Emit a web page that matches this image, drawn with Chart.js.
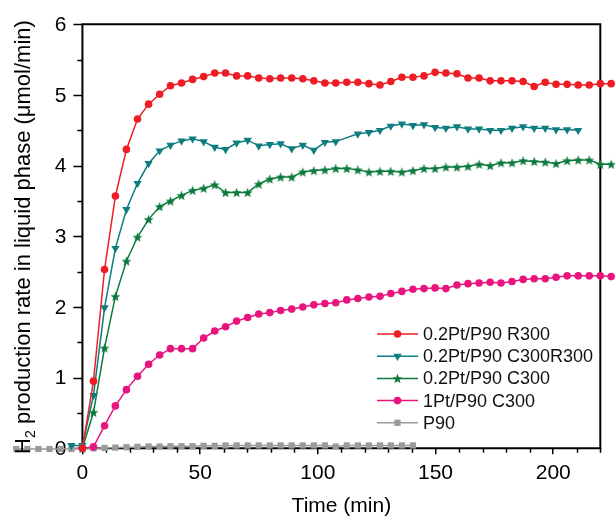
<!DOCTYPE html>
<html><head><meta charset="utf-8">
<script src="https://cdn.jsdelivr.net/npm/chart.js@4"></script>
<style>html,body{margin:0;padding:0;background:#fff}</style>
</head><body>
<canvas id="c" width="615" height="520" style="display:block;width:615px;height:520px"></canvas>
<script>
// ---------- data ----------
const timeMain = [0, 4.7, 9.4, 14.0, 18.7, 23.4, 28.1, 32.8, 37.4, 42.1, 46.8, 51.5, 56.2, 60.8, 65.5, 70.2, 74.9, 79.6, 84.2, 88.9, 93.6, 98.3, 103.0, 107.6, 112.3, 117.0, 121.7, 126.4, 131.0, 135.7, 140.4, 145.1, 149.8, 154.4, 159.1, 163.8, 168.5, 173.2, 177.8, 182.5, 187.2, 191.9, 196.6, 201.2, 205.9, 210.6, 215.3, 220.0, 224.6];
const timeTeal = [-4.7, 0, 4.7, 9.4, 14.0, 18.7, 23.4, 28.1, 32.8, 37.4, 42.1, 46.8, 51.5, 56.2, 60.8, 65.5, 70.2, 74.9, 79.6, 84.2, 88.9, 93.6, 98.3, 103.0, 107.6, 117.0, 121.7, 126.4, 131.0, 135.7, 140.4, 145.1, 149.8, 154.4, 159.1, 163.8, 168.5, 173.2, 177.8, 182.5, 187.2, 191.9, 196.6, 201.2, 205.9, 210.6];
const timeP90 = [-28.1, -23.4, -18.7, -14.0, -9.4, -4.7, 0, 4.7, 9.4, 14.0, 18.7, 23.4, 28.1, 32.8, 37.4, 42.1, 46.8, 51.5, 56.2, 60.8, 65.5, 70.2, 74.9, 79.6, 84.2, 88.9, 93.6, 98.3, 103.0, 107.6, 112.3, 117.0, 121.7, 126.4, 131.0, 135.7, 140.4];

const seriesNames = ["0.2Pt/P90 R300", "0.2Pt/P90 C300R300", "0.2Pt/P90 C300", "1Pt/P90 C300", "P90"];
const valR300 = [0, 0.95, 2.53, 3.57, 4.23, 4.66, 4.87, 5.01, 5.13, 5.17, 5.22, 5.26, 5.31, 5.31, 5.27, 5.27, 5.24, 5.23, 5.24, 5.24, 5.23, 5.20, 5.17, 5.17, 5.18, 5.18, 5.16, 5.14, 5.19, 5.25, 5.25, 5.27, 5.32, 5.31, 5.30, 5.24, 5.24, 5.20, 5.20, 5.20, 5.19, 5.12, 5.18, 5.15, 5.15, 5.14, 5.14, 5.16, 5.16];
const valC300R300 = [0.04, 0.04, 0.75, 1.99, 2.83, 3.38, 3.75, 4.03, 4.21, 4.29, 4.35, 4.38, 4.34, 4.26, 4.23, 4.32, 4.36, 4.28, 4.30, 4.31, 4.24, 4.29, 4.22, 4.33, 4.34, 4.45, 4.47, 4.50, 4.56, 4.59, 4.57, 4.58, 4.54, 4.53, 4.55, 4.52, 4.52, 4.50, 4.50, 4.53, 4.55, 4.53, 4.53, 4.51, 4.51, 4.50];
const valC300 = [0, 0.51, 1.42, 2.15, 2.65, 2.99, 3.24, 3.42, 3.50, 3.58, 3.65, 3.68, 3.73, 3.62, 3.62, 3.62, 3.74, 3.81, 3.84, 3.84, 3.91, 3.93, 3.94, 3.96, 3.96, 3.94, 3.91, 3.92, 3.92, 3.91, 3.93, 3.96, 3.96, 3.98, 3.98, 3.99, 4.02, 4.00, 4.04, 4.04, 4.07, 4.06, 4.05, 4.03, 4.07, 4.08, 4.08, 4.02, 4.02];
const val1Pt = [0, 0.02, 0.32, 0.60, 0.83, 1.02, 1.19, 1.32, 1.41, 1.41, 1.41, 1.56, 1.66, 1.72, 1.80, 1.85, 1.90, 1.92, 1.95, 1.97, 2.00, 2.03, 2.05, 2.06, 2.10, 2.12, 2.14, 2.15, 2.19, 2.22, 2.25, 2.26, 2.27, 2.26, 2.31, 2.33, 2.34, 2.35, 2.34, 2.36, 2.39, 2.40, 2.40, 2.42, 2.44, 2.44, 2.44, 2.44, 2.43];
const valP90 = [-0.01, -0.01, -0.01, -0.01, -0.01, -0.01, 0, 0, 0.005, 0.01, 0.015, 0.02, 0.025, 0.025, 0.03, 0.03, 0.03, 0.035, 0.035, 0.04, 0.04, 0.04, 0.04, 0.04, 0.04, 0.04, 0.04, 0.04, 0.04, 0.025, 0.04, 0.04, 0.04, 0.04, 0.04, 0.04, 0.04];

const xTickLabels = [0, 50, 100, 150, 200];
const yTickLabels = [0, 1, 2, 3, 4, 5, 6];
const xTitle = "Time (min)";
const yTitleMain = "H";
const yTitleSub = "2";
const yTitleRest = " production rate in liquid phase (\u03BCmol/min)";

// ---------- styling ----------
const FONT = "'Liberation Sans', Arial, sans-serif";
function makeStar(color, R, r) {
  const s = Math.ceil(R * 2 + 2);
  const cv = document.createElement('canvas');
  cv.width = s; cv.height = s;
  const c = cv.getContext('2d');
  c.translate(s / 2, s / 2 + 0.5);
  c.beginPath();
  for (let k = 0; k < 10; k++) {
    const rad = k % 2 === 0 ? R : r;
    const a = -Math.PI / 2 + k * Math.PI / 5;
    const px = rad * Math.cos(a), py = rad * Math.sin(a);
    if (k === 0) c.moveTo(px, py); else c.lineTo(px, py);
  }
  c.closePath();
  c.fillStyle = color; c.fill();
  return cv;
}
const colR = '#ee1d25', colT = '#0d7d80', colG = '#0b7a3c', colP = '#e9157f', colGr = '#9a9a9a';
const starImg = makeStar(colG, 5.2, 2.2);

function pts(xs, ys) { return xs.map((v, i) => ({ x: v, y: ys[i] })); }

const styles = [
  { color: colR, pointStyle: 'circle', radius: 3.8, rotation: 0 },
  { color: colT, pointStyle: 'triangle', radius: 4.8, rotation: 180 },
  { color: colG, pointStyle: starImg, radius: 4.5, rotation: 0 },
  { color: colP, pointStyle: 'circle', radius: 3.8, rotation: 0 },
  { color: colGr, pointStyle: 'rect', radius: 4.4, rotation: 0 }
];
const dataLists = [pts(timeMain, valR300), pts(timeTeal, valC300R300), pts(timeMain, valC300), pts(timeMain, val1Pt), pts(timeP90, valP90)];

const datasets = dataLists.map((d, i) => ({
  label: seriesNames[i],
  data: d,
  borderColor: styles[i].color,
  backgroundColor: styles[i].color,
  borderWidth: 1.5,
  pointStyle: styles[i].pointStyle,
  pointRadius: styles[i].radius,
  pointRotation: styles[i].rotation,
  pointBorderWidth: 0,
  pointBackgroundColor: styles[i].color,
  pointBorderColor: styles[i].color,
  tension: 0,
  clip: false,
  fill: false
}));

function drawMarker(ctx, st, x, y) {
  ctx.save();
  ctx.fillStyle = st.color;
  if (st.pointStyle === 'circle') {
    ctx.beginPath(); ctx.arc(x, y, st.radius, 0, Math.PI * 2); ctx.fill();
  } else if (st.pointStyle === 'triangle') {
    const r = st.radius;
    ctx.beginPath();
    for (let k = 0; k < 3; k++) {
      const a = Math.PI / 2 + k * 2 * Math.PI / 3;
      const px = x + r * Math.cos(a), py = y + r * Math.sin(a);
      if (k === 0) ctx.moveTo(px, py); else ctx.lineTo(px, py);
    }
    ctx.closePath(); ctx.fill();
  } else if (st.pointStyle === 'rect') {
    const h = st.radius * Math.SQRT1_2;
    ctx.fillRect(x - h, y - h, 2 * h, 2 * h);
  } else {
    const img = st.pointStyle;
    ctx.drawImage(img, x - img.width / 2, y - img.height / 2);
  }
  ctx.restore();
}

const framePlugin = {
  id: 'frame',
  beforeDatasetsDraw(chart) {
    const { ctx, scales: { x, y } } = chart;
    const x0 = x.getPixelForValue(0), x1 = x.getPixelForValue(220);
    const y0 = y.getPixelForValue(0), y6 = y.getPixelForValue(6);
    ctx.save();
    ctx.strokeStyle = '#000';
    ctx.lineWidth = 2;
    ctx.beginPath();
    ctx.moveTo(x0 - 1, y0); ctx.lineTo(x1, y0); ctx.lineTo(x1, y6); ctx.lineTo(x0, y6); ctx.lineTo(x0, y0 + 1);
    ctx.stroke();
    ctx.lineWidth = 1.5;
    ctx.beginPath();
    for (let v = 10; v <= 220; v += 10) {
      if (v % 50 === 0) continue;
      const px = Math.round(x.getPixelForValue(v)) + 0.5;
      ctx.moveTo(px, y0); ctx.lineTo(px, y0 + 4.5);
    }
    for (let v = 0.5; v < 6; v += 1) {
      const py = Math.round(y.getPixelForValue(v)) + 0.5;
      ctx.moveTo(x0, py); ctx.lineTo(x0 - 5, py);
    }
    for (const v of yTickLabels) {
      const py = Math.round(y.getPixelForValue(v)) + 0.5;
      ctx.moveTo(x0, py); ctx.lineTo(x0 - 9, py);
    }
    ctx.stroke();
    // y tick labels
    ctx.fillStyle = '#000';
    ctx.font = '21px ' + FONT;
    ctx.textAlign = 'right';
    ctx.textBaseline = 'middle';
    for (const v of yTickLabels) {
      ctx.fillText(String(v), x0 - 16, y.getPixelForValue(v) + 1);
    }
    ctx.restore();
  },
  afterDraw(chart) {
    const { ctx, scales: { x, y } } = chart;
    const x0 = x.getPixelForValue(0), x1 = x.getPixelForValue(220);
    ctx.save();
    ctx.fillStyle = '#000';
    // x title
    ctx.font = '21px ' + FONT;
    ctx.textAlign = 'center';
    ctx.textBaseline = 'middle';
    ctx.fillText(xTitle, (x0 + x1) / 2, 506);
    // y title (rotated)
    ctx.translate(22, 237);
    ctx.rotate(-Math.PI / 2);
    const big = '22px ' + FONT, small = '14px ' + FONT;
    ctx.font = big; const wH = ctx.measureText(yTitleMain).width; const wR = ctx.measureText(yTitleRest).width;
    ctx.font = small; const w2 = ctx.measureText(yTitleSub).width;
    let cx = -(wH + w2 + wR) / 2;
    ctx.textAlign = 'left';
    ctx.textBaseline = 'alphabetic';
    const base = 8;
    ctx.font = big; ctx.fillText(yTitleMain, cx, base); cx += wH;
    ctx.font = small; ctx.fillText(yTitleSub, cx, base + 5); cx += w2;
    ctx.font = big; ctx.fillText(yTitleRest, cx, base);
    ctx.restore();
    // legend
    ctx.save();
    ctx.font = '18px ' + FONT;
    ctx.textAlign = 'left';
    ctx.textBaseline = 'middle';
    for (let i = 0; i < seriesNames.length; i++) {
      const ry = 334 + i * 22.2;
      ctx.strokeStyle = styles[i].color;
      ctx.lineWidth = 1.5;
      ctx.beginPath(); ctx.moveTo(377, ry); ctx.lineTo(418, ry); ctx.stroke();
      drawMarker(ctx, styles[i], 397.5, ry);
      ctx.fillStyle = '#111';
      ctx.fillText(seriesNames[i], 423, ry + 1);
    }
    ctx.restore();
  }
};

new Chart(document.getElementById('c'), {
  type: 'line',
  data: { datasets },
  plugins: [framePlugin],
  options: {
    responsive: false,
    devicePixelRatio: 1,
    animation: false,
    events: [],
    layout: { padding: { left: 9.45, right: 0, top: 24.3, bottom: 0 } },
    plugins: { legend: { display: false }, tooltip: { enabled: false } },
    scales: {
      x: {
        type: 'linear',
        position: 'bottom',
        min: -31,
        max: 224.2,
        afterBuildTicks(scale) { scale.ticks = xTickLabels.map(v => ({ value: v })); },
        afterFit(scale) { scale.height = 71.7; },
        grid: { drawOnChartArea: false, drawTicks: true, tickLength: 6, color: '#000', lineWidth: 1.5 },
        border: { display: false },
        ticks: { font: { family: FONT, size: 21 }, color: '#000', padding: 6, maxRotation: 0, autoSkip: false }
      },
      y: {
        type: 'linear',
        position: { x: 0 },
        display: false,
        min: 0,
        max: 6
      }
    }
  }
});
</script>
</body></html>
